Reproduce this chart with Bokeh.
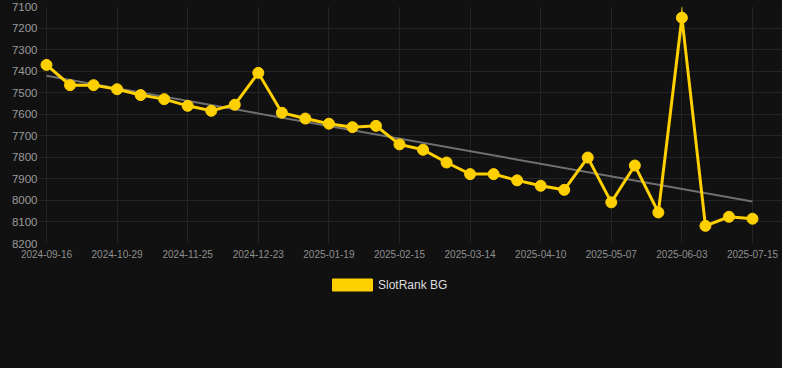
import numpy as np
from bokeh.plotting import figure
from bokeh.layouts import column
from bokeh.models import (ColumnDataSource, Range1d, FixedTicker, Legend, LegendItem)
from bokeh.embed import file_html
from bokeh.resources import INLINE

# ---- data ----
dates = [
    "2024-09-16", "2024-09-30", "2024-10-14", "2024-10-29", "2024-11-07", "2024-11-16",
    "2024-11-25", "2024-12-04", "2024-12-13", "2024-12-23", "2025-01-01", "2025-01-10",
    "2025-01-19", "2025-01-28", "2025-02-06", "2025-02-15", "2025-02-24", "2025-03-05",
    "2025-03-14", "2025-03-23", "2025-04-01", "2025-04-10", "2025-04-19", "2025-04-28",
    "2025-05-07", "2025-05-16", "2025-05-25", "2025-06-03", "2025-06-17", "2025-07-01",
    "2025-07-15",
]
rank = [
    7371, 7465, 7465, 7484, 7511, 7530, 7561, 7584, 7556, 7408,
    7593, 7620, 7644, 7660, 7654, 7740, 7765, 7824, 7878, 7878,
    7907, 7932, 7951, 7801, 8009, 7838, 8056, 7152, 8118, 8076,
    8085,
]
series_name = "SlotRank BG"
y_ticks = [7100, 7200, 7300, 7400, 7500, 7600, 7700, 7800, 7900, 8000, 8100, 8200]
label_every = 3

x = list(range(len(dates)))
src = ColumnDataSource(dict(x=x, y=rank))

# linear trend (least squares)
slope, intercept = np.polyfit(np.array(x, dtype=float), np.array(rank, dtype=float), 1)
trend_src = ColumnDataSource(dict(x=[x[0], x[-1]],
                                  y=[intercept + slope * x[0], intercept + slope * x[-1]]))

BG = "#111111"
YELLOW = "#FFD000"
GRID = "#242424"
W = 782

fig = figure(width=W, height=265, output_backend="svg", toolbar_location=None,
             x_range=Range1d(-0.34, 31.275), y_range=Range1d(8200, 7100),
             min_border_left=38, min_border_right=0, min_border_top=6, min_border_bottom=22)
fig.background_fill_color = None
fig.border_fill_color = BG
fig.outline_line_color = None

fig.line("x", "y", source=trend_src, line_color="#707070", line_width=2)
fig.line("x", "y", source=src, line_color=YELLOW, line_width=3, line_join="miter")
fig.scatter("x", "y", source=src, size=11, fill_color=YELLOW, line_color=YELLOW)

tick_idx = x[::label_every]
fig.xaxis.ticker = FixedTicker(ticks=tick_idx)
fig.xaxis.major_label_overrides = {i: dates[i] for i in tick_idx}
fig.yaxis.ticker = FixedTicker(ticks=y_ticks)

for ax in (fig.xaxis, fig.yaxis):
    ax.axis_line_color = None
    ax.major_tick_line_color = None
    ax.minor_tick_line_color = None
    ax.major_tick_out = 0
    ax.major_tick_in = 0
    ax.major_label_text_font = "Liberation Sans"
fig.xaxis.major_label_text_font_size = "10px"
fig.xaxis.major_label_text_color = "#8f8f8f"
fig.xaxis.major_label_standoff = 6
fig.yaxis.major_label_text_font_size = "11.5px"
fig.yaxis.major_label_text_color = "#9a9a9a"
fig.yaxis.major_label_standoff = 1

fig.xgrid.grid_line_color = GRID
fig.ygrid.grid_line_color = GRID

# ---- legend strip below the chart ----
leg = figure(width=W, height=103, output_backend="svg", toolbar_location=None,
             x_range=Range1d(0, 1), y_range=Range1d(0, 1),
             x_axis_type=None, y_axis_type=None,
             min_border_left=0, min_border_right=0, min_border_top=0, min_border_bottom=0)
leg.background_fill_color = None
leg.border_fill_color = BG
leg.outline_line_color = None
swatch = leg.quad(left=[5], right=[6], top=[5], bottom=[6],
                  fill_color=YELLOW, line_color=YELLOW)

legend = Legend(items=[LegendItem(label=series_name, renderers=[swatch])],
                location=(289, 76), orientation="horizontal",
                background_fill_alpha=0, border_line_color=None,
                glyph_width=50, glyph_height=15, label_standoff=1,
                label_text_font="Liberation Sans", label_text_font_size="12px",
                label_text_color="#dddddd", margin=0, padding=4)
leg.add_layout(legend, "center")

p = column(fig, leg, spacing=0, styles={"background-color": BG})

open("out.html", "w").write(file_html(p, INLINE))
